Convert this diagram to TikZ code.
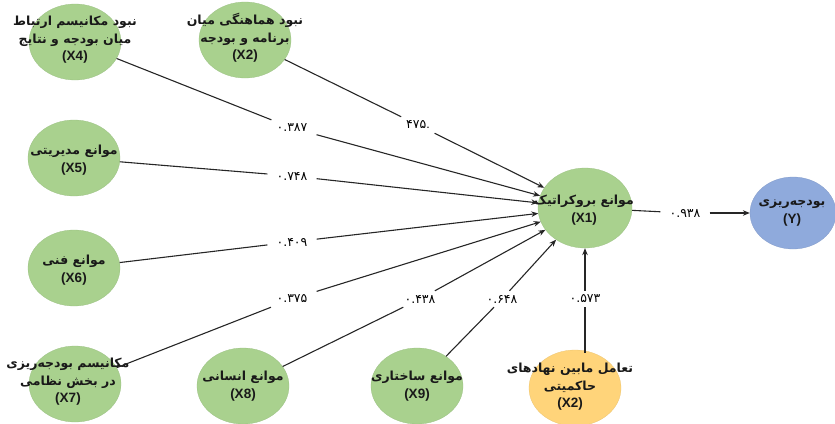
\documentclass[tikz,border=0pt]{standalone}
\usepackage{fontspec}
\setmainfont{Liberation Sans}
\newfontfamily\fa[Script=Arabic]{DejaVu Sans}
\TeXXeTstate=1
\usetikzlibrary{shapes.geometric,arrows.meta}
\definecolor{gr}{HTML}{A9D18E}
\definecolor{bl}{HTML}{8FAADC}
\definecolor{og}{HTML}{FFD47A}
\newcommand{\pl}[1]{{\fa\bfseries\beginR #1\endR}}
\newcommand{\lt}[1]{{\fontsize{13.5}{17}\selectfont\bfseries #1}}
\begin{document}
\begin{tikzpicture}[x=1pt,y=-1pt,
  el/.style={ellipse, inner sep=0pt, minimum width=92pt, minimum height=76pt, fill=gr, draw=gr!92!black, line width=0.3pt},
  txt/.style={align=center, font=\fontsize{12.5}{17.5}\selectfont, inner sep=0pt, text=black!90},
  coef/.style={font=\fa\fontsize{12.5}{14}\selectfont, inner xsep=9pt, inner ysep=4pt},
  con/.style={line width=1.1pt, draw=black!85},
  arr/.style={con, -{Stealth[length=7pt,width=5.5pt]}}]
\useasboundingbox (0,0) rectangle (835,423);
% nodes
\node[el] (x4) at (75,42) {};
\node[el] (x2t) at (245,40) {};
\node[el] (x5) at (74,158) {};
\node[el] (x6) at (74,268) {};
\node[el] (x7) at (75,384) {};
\node[el] (x8) at (243,386) {};
\node[el] (x9) at (417,386) {};
\node[el, fill=og, draw=og!92!black] (x2b) at (575,388) {};
\node[el, minimum width=94pt, minimum height=80pt] (x1) at (585,208) {};
\node[el, fill=bl, draw=bl!92!black, minimum width=86pt, minimum height=72pt] (y) at (793,213) {};
% texts
\node[txt] (t4) at (75,40) {\pl{نبود مکانیسم ارتباط}\\\pl{میان بودجه و نتایج}\\\lt{(X4)}};
\node[txt] (t2t) at (245,38) {\pl{نبود هماهنگی میان}\\\pl{برنامه و بودجه}\\\lt{(X2)}};
\node[txt] (t5) at (74,160) {\pl{موانع مدیریتی}\\\lt{(X5)}};
\node[txt] (t6) at (74,270) {\pl{موانع فنی}\\\lt{(X6)}};
\node[txt] (t7) at (68,382) {\pl{مکانیسم بودجه‌ریزی}\\\pl{در بخش نظامی}\\\lt{(X7)}};
\node[txt] (t8) at (243,386) {\pl{موانع انسانی}\\\lt{(X8)}};
\node[txt] (t9) at (417,386) {\pl{موانع ساختاری}\\\lt{(X9)}};
\node[txt] (t2b) at (570,387) {\pl{تعامل مابین نهادهای}\\\pl{حاکمیتی}\\\lt{(X2)}};
\node[txt] (t1) at (584,210) {\pl{موانع بروکراتیک}\\\lt{(X1)}};
\node[txt] (ty) at (792,213) {\pl{بودجه‌ریزی}\\\lt{(Y)}};
% coefficient labels
\node[coef] (c1) at (292,128) {۰.۳۸۷};
\node[coef] (c2) at (418,125) {۴۷۵\hbox{\rmfamily .}};
\node[coef] (c3) at (292,176) {۰.۷۴۸};
\node[coef] (c4) at (292,242) {۰.۴۰۹};
\node[coef] (c5) at (292,299) {۰.۳۷۵};
\node[coef] (c6) at (420,299) {۰.۴۳۸};
\node[coef] (c7) at (502,299) {۰.۶۴۸};
\node[coef] (c8) at (585,299) {۰.۵۷۳};
\node[coef] (c9) at (685,213) {۰.۹۳۸};
\coordinate (x2bt) at (585,353);
% connectors
\draw[con] (x4) -- (c1); \draw[arr] (c1) -- (x1);
\draw[con] (x2t) -- (c2); \draw[arr] (c2) -- (x1);
\draw[con] (x5) -- (c3); \draw[arr] (c3) -- (x1);
\draw[con] (x6) -- (c4); \draw[arr] (c4) -- (x1);
\draw[con] (x7) -- (c5); \draw[arr] (c5) -- (x1);
\draw[con] (x8) -- (c6); \draw[arr] (c6) -- (x1);
\draw[con] (x9) -- (c7); \draw[arr] (c7) -- (x1);
\draw[con] (x2bt) -- (c8); \draw[arr] (c8) -- (c8 |- x1.south);
\draw[con] (x1) -- (c9); \draw[arr] (c9) -- (y);
\end{tikzpicture}
\end{document}
